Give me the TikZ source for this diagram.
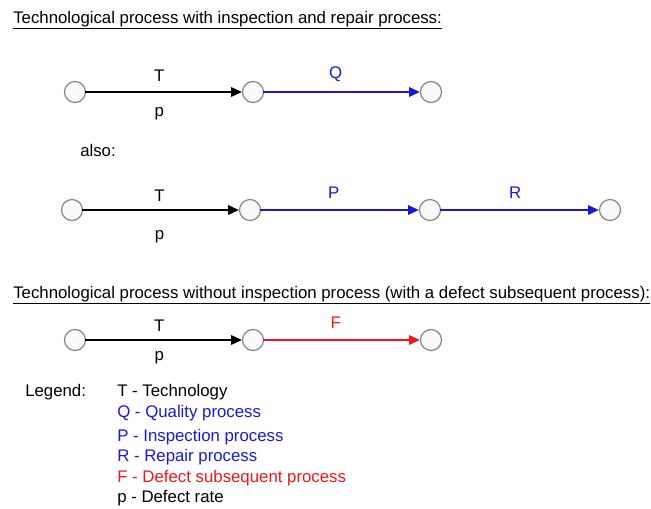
\documentclass[tikz,border=0pt]{standalone}
\usepackage{fontspec}
\setmainfont{Liberation Sans}
\usetikzlibrary{arrows.meta}
\definecolor{procblue}{RGB}{25,25,215}
\definecolor{procred}{RGB}{235,25,25}
\definecolor{ringgray}{RGB}{135,135,135}

\begin{document}
\begin{tikzpicture}[x=0.75pt,y=-0.75pt,
    state/.style={circle,draw=ringgray,fill=gray!4,line width=0.9pt,minimum size=15.75pt,inner sep=0pt},
    flow/.style={-{Triangle[length=8pt,width=7pt]},line width=1.35pt,shorten <=-0.5pt},
    txt/.style={font=\fontsize{12.6}{14}\selectfont,inner sep=0pt}]
    \useasboundingbox (0,0) rectangle (651,508);

    % first chain
    \node[txt,anchor=west] (head1) at (13,20) {\underline{Technological process with inspection and repair process:}};
    \node[state] (a1) at (75,92) {};
    \node[state] (a2) at (253,92) {};
    \node[state] (a3) at (431,92) {};
    \draw[flow] (a1) -- (a2) node[txt,pos=.47,yshift=12pt] (t1) {T} node[txt,pos=.47,yshift=-16pt] (p1) {p};
    \draw[flow,procblue] (a2) -- (a3) node[txt,pos=.46,yshift=13pt] (q1) {Q};

    \node[txt,anchor=west] (also) at (80,150) {also:};

    % second chain
    \node[state] (b1) at (72,210) {};
    \node[state] (b2) at (250,210) {};
    \node[state] (b3) at (430,210) {};
    \node[state] (b4) at (610,210) {};
    \draw[flow] (b1) -- (b2) node[txt,pos=.49,yshift=11pt] (t2) {T} node[txt,pos=.49,yshift=-20pt] (p2) {p};
    \draw[flow,procblue] (b2) -- (b3) node[txt,pos=.46,yshift=13pt] (p3) {P};
    \draw[flow,procblue] (b3) -- (b4) node[txt,pos=.47,yshift=13pt] (r3) {R};

    % without inspection
    \node[txt,anchor=west] (head2) at (13,295) {\underline{Technological process without inspection process (with a defect subsequent process):}};
    \node[state] (c1) at (75,340) {};
    \node[state] (c2) at (253,340) {};
    \node[state] (c3) at (431,340) {};
    \draw[flow] (c1) -- (c2) node[txt,pos=.47,yshift=11pt] (t4) {T} node[txt,pos=.47,yshift=-13pt] (p4) {p};
    \draw[flow,procred] (c2) -- (c3) node[txt,pos=.46,yshift=13pt] (f4) {F};

    % legend
    \node[txt,anchor=west] (leg) at (25,392) {Legend:};
    \node[txt,anchor=west] (lT) at (117,392) {T - Technology};
    \node[txt,anchor=west,text=procblue] (lQ) at (117,413) {Q - Quality process};
    \node[txt,anchor=west,text=procblue] (lP) at (117,437) {P - Inspection process};
    \node[txt,anchor=west,text=procblue] (lR) at (117,457) {R - Repair process};
    \node[txt,anchor=west,text=procred] (lF) at (117,478) {F - Defect subsequent process};
    \node[txt,anchor=west] (lp) at (117,498) {p - Defect rate};
\end{tikzpicture}
\end{document}
